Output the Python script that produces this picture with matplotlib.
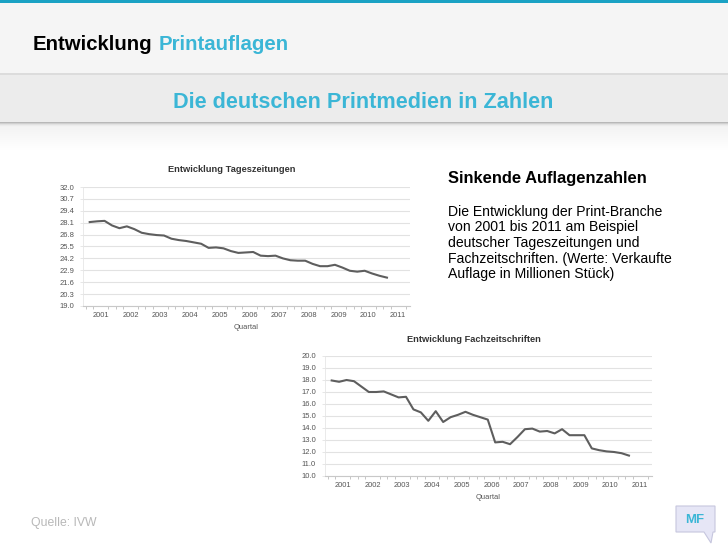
import numpy as np
import matplotlib
matplotlib.use('Agg')
import matplotlib.pyplot as plt
from matplotlib.patches import Rectangle, Polygon

plt.rcParams['font.family'] = ['Liberation Sans', 'DejaVu Sans']

# --- DADOS ---
jahre = ['2001', '2002', '2003', '2004', '2005', '2006', '2007', '2008', '2009', '2010', '2011']

# Tageszeitungen, Quartale 2001 Q1 .. 2011 Q1 (Mio. Stück)
tageszeitungen = [28.17, 28.25, 28.3, 27.8, 27.5, 27.7, 27.4, 27.0, 26.85, 26.75,
                  26.7, 26.35, 26.2, 26.1, 25.95, 25.8, 25.35, 25.4, 25.3, 25.0,
                  24.8, 24.85, 24.9, 24.5, 24.45, 24.5, 24.2, 24.0, 23.95, 23.95,
                  23.6, 23.35, 23.35, 23.5, 23.2, 22.85, 22.75, 22.85, 22.55, 22.3,
                  22.1]
tz_ticks = [32.0, 30.7, 29.4, 28.1, 26.8, 25.5, 24.2, 22.9, 21.6, 20.3, 19.0]

# Fachzeitschriften
fachzeitschriften = [17.96, 17.85, 18.0, 17.9, 17.45, 17.0, 17.0, 17.05, 16.8, 16.55,
                     16.6, 15.55, 15.3, 14.6, 15.4, 14.5, 14.9, 15.1, 15.35, 15.1,
                     14.9, 14.7, 12.8, 12.85, 12.65, 13.25, 13.9, 13.95, 13.7, 13.75,
                     13.55, 13.9, 13.4, 13.4, 13.4, 12.3, 12.15, 12.05, 12.0, 11.9,
                     11.7]
fz_ticks = [20.0, 19.0, 18.0, 17.0, 16.0, 15.0, 14.0, 13.0, 12.0, 11.0, 10.0]

W, H = 728, 546
TEAL = '#3bb6d6'

fig = plt.figure(figsize=(W / 100, H / 100), dpi=100)

# Hintergrund-Achse in Pixelkoordinaten
bg = fig.add_axes([0, 0, 1, 1])
bg.set_xlim(0, W)
bg.set_ylim(H, 0)
bg.axis('off')

bg.add_patch(Rectangle((0, 0), W, 3, color='#1aa2c4', lw=0))
bg.add_patch(Rectangle((0, 3), W, 70, color='#f5f5f5', lw=0))
bg.add_patch(Rectangle((0, 73), W, 2, color='#dcdcdc', lw=0))
bg.add_patch(Rectangle((0, 75), W, 47, color='#ececec', lw=0))
# Schatten unter dem Band
for k, c in enumerate(['#b8b8b8', '#cfcfcf', '#e2e2e2', '#ececec', '#f2f2f2']):
    bg.add_patch(Rectangle((0, 122 + k), W, 1, color=c, lw=0))
for k in range(25):
    g = 0.955 + 0.045 * k / 24
    bg.add_patch(Rectangle((0, 127 + k), W, 1, color=(g, g, g), lw=0))

t1 = bg.text(33, 44, 'Entwicklung', fontsize=14.7, fontweight='bold', color='black',
             va='center', ha='left')
bg.annotate('Printauflagen', xy=(1, 0.5), xycoords=t1, xytext=(4.5, 0),
            textcoords='offset points', fontsize=14.7, fontweight='bold',
            color=TEAL, va='center', ha='left')
bg.text(363, 103, 'Die deutschen Printmedien in Zahlen', fontsize=15.6,
        fontweight='bold', color=TEAL, va='center', ha='center')

bg.text(448, 179, 'Sinkende Auflagenzahlen', fontsize=11.9, fontweight='bold',
        color='black', va='center', ha='left')
body = ['Die Entwicklung der Print-Branche',
        'von 2001 bis 2011 am Beispiel',
        'deutscher Tageszeitungen und',
        'Fachzeitschriften. (Werte: Verkaufte',
        'Auflage in Millionen Stück)']
for i, zeile in enumerate(body):
    bg.text(448, 212 + i * 15.5, zeile, fontsize=10.1, color='black',
            va='center', ha='left')

bg.text(31, 523, 'Quelle: IVW', fontsize=8.8, color='#b8b8b8', va='center', ha='left')

# MF-Logo
bg.add_patch(Polygon([(676, 506), (715, 506), (715, 532), (713, 532), (711, 543),
                      (704, 532), (676, 532)], closed=True,
                     facecolor='#e6e6f6', edgecolor='#c6c6de', lw=0.8))
bg.text(695, 520, 'MF', fontsize=9.5, fontweight='bold', color=TEAL,
        va='center', ha='center')


def px_axes(x0, y0, x1, y1):
    return fig.add_axes([x0 / W, 1 - y1 / H, (x1 - x0) / W, (y1 - y0) / H])


def chart(ax, werte, ticks):
    n_kat = len(jahre) * 4
    x = np.arange(len(werte))
    ax.plot(x, werte, color='#5e5e5e', lw=1.5, solid_joinstyle='round')
    ax.set_xlim(-0.9, n_kat - 0.9)
    ax.set_ylim(min(ticks), max(ticks))
    ax.set_yticks(ticks)
    ax.set_yticklabels([f'{t:.1f}' for t in ticks])
    ax.grid(axis='y', color='#e2e2e2', lw=0.8)
    ax.set_axisbelow(True)
    ax.set_xticks([1.5 + 4 * i for i in range(len(jahre))])
    ax.set_xticklabels(jahre)
    ax.set_xticks(np.arange(-0.5, n_kat - 0.5, 1), minor=True)
    ax.tick_params(axis='x', which='major', length=0, pad=4, labelsize=5.4,
                   labelcolor='#555555')
    ax.tick_params(axis='x', which='minor', length=2, color='#bbbbbb', width=0.6)
    ax.tick_params(axis='y', length=2, width=0.5, color='#dddddd', pad=4.5,
                   labelsize=5.5, labelcolor='#555555')
    for s in ['top', 'right']:
        ax.spines[s].set_visible(False)
    ax.spines['left'].set_color('#e6e6e6')
    ax.spines['left'].set_linewidth(0.6)
    ax.spines['bottom'].set_color('#c8c8c8')
    ax.spines['bottom'].set_linewidth(0.8)
    ax.set_xlabel('Quartal', fontsize=5.4, color='#555555', labelpad=4)


ax1 = px_axes(83, 187, 410, 306)
chart(ax1, tageszeitungen, tz_ticks)
bg.text(232, 170, 'Entwicklung Tageszeitungen', fontsize=6.7, fontweight='bold',
        color='#333333', va='center', ha='center')

ax2 = px_axes(325, 356, 652, 476)
chart(ax2, fachzeitschriften, fz_ticks)
bg.text(474, 340, 'Entwicklung Fachzeitschriften', fontsize=6.7, fontweight='bold',
        color='#333333', va='center', ha='center')

fig.savefig('out.png', dpi=100)
